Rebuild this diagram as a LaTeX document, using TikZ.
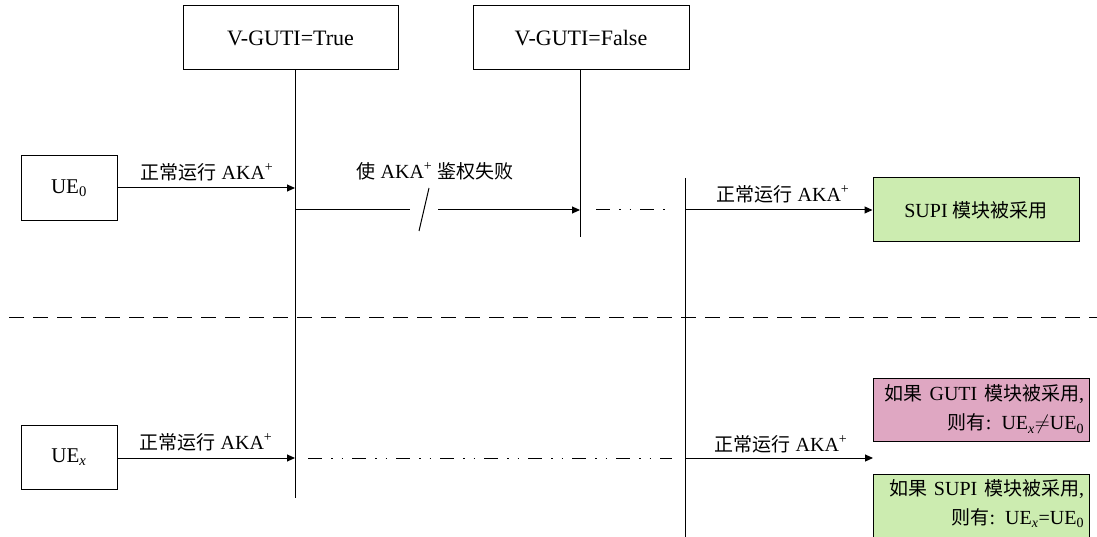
\documentclass[tikz,border=0pt]{standalone}
\usepackage{fontspec}
\setmainfont{Liberation Serif}
\newfontfamily\cjk[Scale=0.95]{Noto Sans CJK SC}
\usetikzlibrary{arrows.meta}
\definecolor{pinkfill}{RGB}{223,167,194}
\definecolor{greenfill}{RGB}{204,236,176}
\newcommand{\akap}{AKA\textsuperscript{+}}
\begin{document}
\begin{tikzpicture}[x=1pt,y=-1pt,
  txt/.style={font=\fontsize{20}{29}\selectfont},
  bigtxt/.style={font=\fontsize{22}{29}\selectfont},
  box/.style={draw, line width=1pt, inner sep=0pt, txt},
  life/.style={line width=1pt},
  msg/.style={line width=1pt, -{Triangle[length=8pt,width=7pt]}},
  dashdot/.style={line width=1pt, dash pattern=on 14pt off 9pt on 1.5pt off 9pt on 1.5pt off 9pt},
  sep/.style={line width=1pt, dash pattern=on 15pt off 9pt},
  lbl/.style={inner sep=0pt, txt}]
\useasboundingbox (0,0) rectangle (1097,537);
\clip (0,0) rectangle (1097,537);
% header boxes
\node[box, bigtxt, minimum width=215pt, minimum height=64pt] (vt) at (290.5,38) {V-GUTI=True};
\node[box, bigtxt, minimum width=216pt, minimum height=64pt] (vf) at (581,38) {V-GUTI=False};
% lifelines
\coordinate (vtTop) at (295,70);
\coordinate (vtBot) at (295,498);
\coordinate (vfTop) at (580,70);
\coordinate (vfBot) at (580,237);
\coordinate (rTop) at (685,178);
\coordinate (rBot) at (685,540);
\draw[life] (vtTop) -- (vtBot);
\draw[life] (vfTop) -- (vfBot);
\draw[life] (rTop) -- (rBot);
% UE boxes
\node[box, font=\fontsize{21}{29}\selectfont, minimum width=96pt, minimum height=65pt] (ue0) at (69,188.5) {UE\textsubscript{0}};
\node[box, font=\fontsize{21}{29}\selectfont, minimum width=96pt, minimum height=64pt] (uex) at (69,457) {UE\textsubscript{\textit{x}}};
% result boxes
\node[box, fill=greenfill, minimum width=206pt, minimum height=64pt] (supi) at (976,210) {SUPI {\cjk 模块被采用}};
\node[box, fill=pinkfill, minimum width=216pt, minimum height=63pt, text width=206pt, align=right] (guti) at (981,409.5)
  {{\cjk 如果} GUTI {\cjk 模块被采用}{,}\\{\cjk 则有}: UE\textsubscript{\textit{x}}$\neq$UE\textsubscript{0}};
\path[draw, line width=1pt, fill=greenfill] (873,474) rectangle (1089,545);
\node[lbl, text width=206pt, align=right] (gtext) at (981,503.5)
  {{\cjk 如果} SUPI {\cjk 模块被采用}{,}\\{\cjk 则有}: UE\textsubscript{\textit{x}}=UE\textsubscript{0}};
% separator
\coordinate (sepL) at (9,317);
\coordinate (sepR) at (1097,317);
\draw[sep] (sepL) -- (sepR);
% top row messages
\coordinate (a1e) at (295,188);
\draw[msg] (ue0.east |- a1e) -- (a1e);
\node[lbl] (l1) at (207,172) {{\cjk 正常运行} \akap};
\coordinate (a2s) at (295,210);
\coordinate (a2g1) at (410,210);
\coordinate (a2g2) at (438,210);
\coordinate (a2e) at (580,210);
\draw[life] (a2s) -- (a2g1);
\draw[msg] (a2g2) -- (a2e);
\coordinate (slA) at (419,231);
\coordinate (slB) at (429,188);
\draw[life] (slA) -- (slB);
\node[lbl] (l2) at (435,171) {{\cjk 使} \akap\ {\cjk 鉴权失败}};
\coordinate (a3s) at (596,210);
\coordinate (a3e) at (668,210);
\draw[dashdot] (a3s) -- (a3e);
\draw[msg] (rTop |- supi.west) -- (supi.west);
\node[lbl] (l3) at (783,194) {{\cjk 正常运行} \akap};
% bottom row messages
\coordinate (b1e) at (295,458);
\draw[msg] (ue0.east |- b1e) -- (b1e);
\node[lbl] (l4) at (206,442) {{\cjk 正常运行} \akap};
\coordinate (b2s) at (308,458);
\coordinate (b2e) at (672,458);
\draw[dashdot] (b2s) -- (b2e);
\coordinate (b3s) at (685,458);
\coordinate (b3e) at (873,458);
\draw[msg] (b3s) -- (b3e);
\node[lbl] (l5) at (781,444) {{\cjk 正常运行} \akap};
\end{tikzpicture}
\end{document}
